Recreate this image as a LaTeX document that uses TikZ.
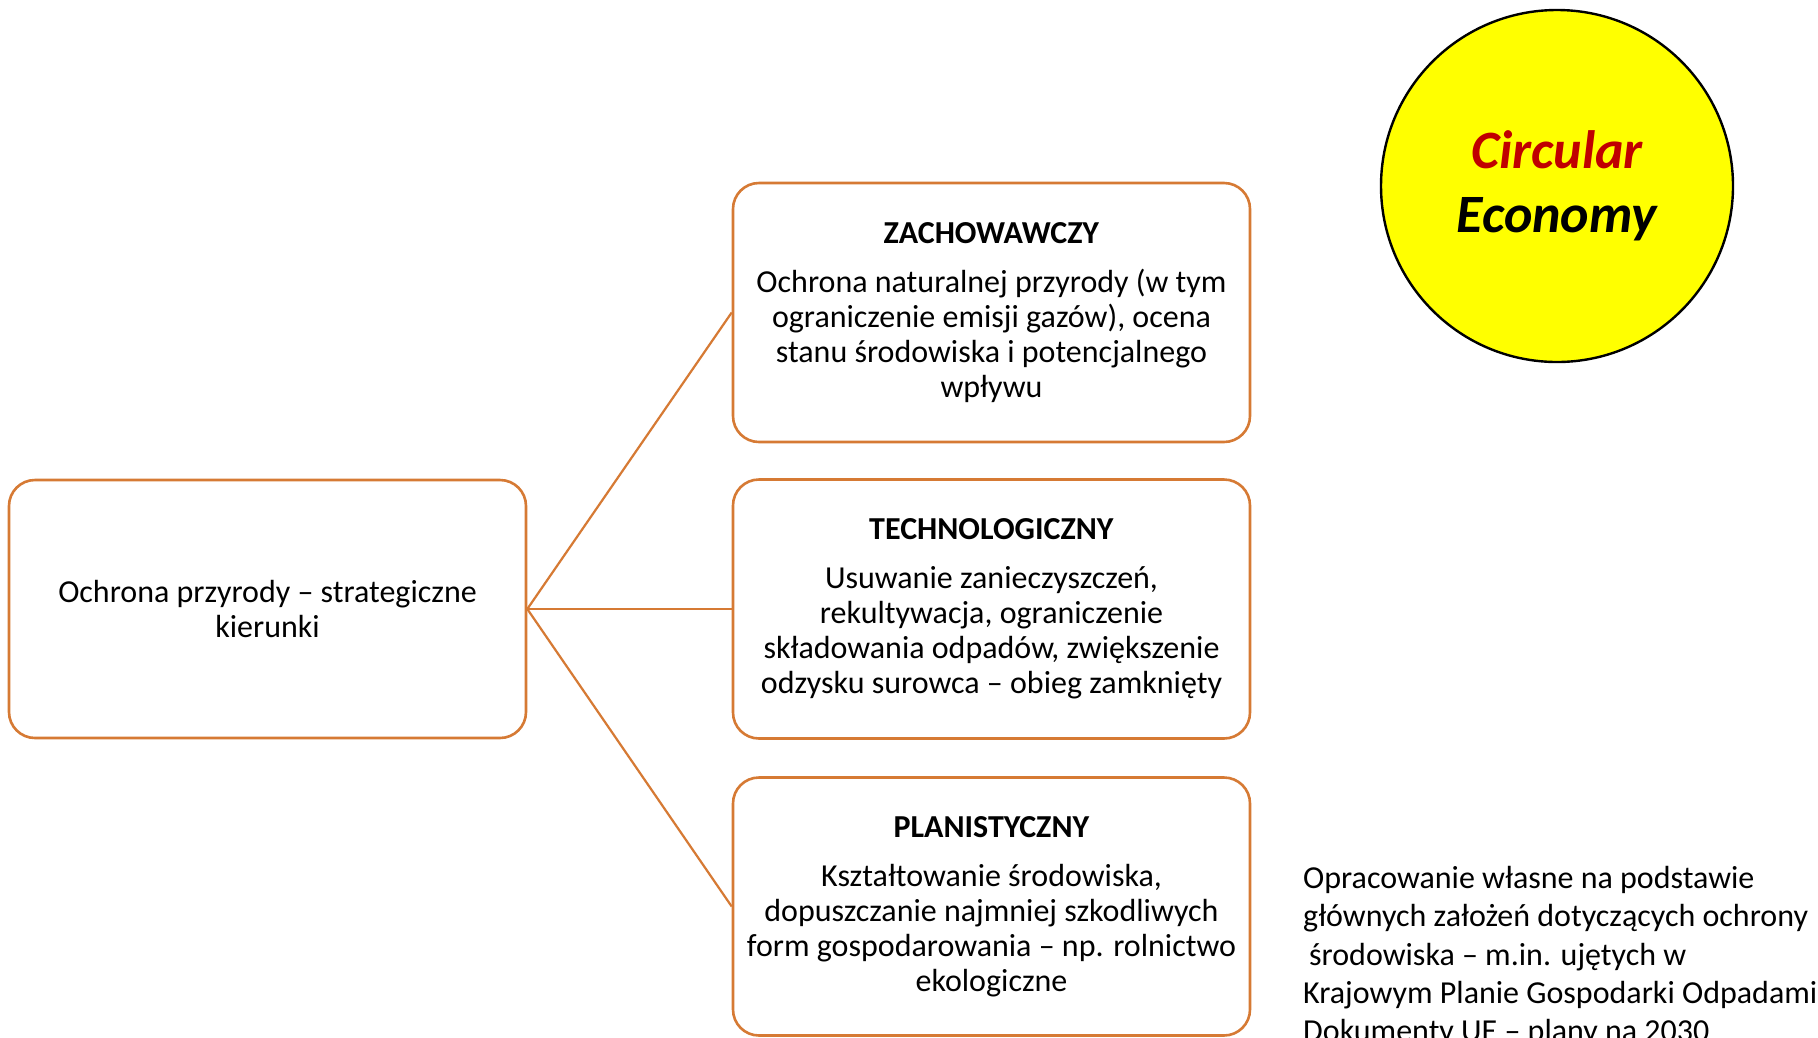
\documentclass[tikz,border=0pt]{standalone}
\usepackage{fontspec}
\setmainfont{Carlito}
\begin{document}
\begin{tikzpicture}[x=1pt,y=-1pt,
  accent/.style={draw={rgb,255:red,214;green,122;blue,52}},
  box/.style={accent, line width=2.6pt, rounded corners=26pt, fill=white,
    minimum width=517pt, align=center, inner sep=0pt,
    font=\fontsize{32}{35}\selectfont},
  link/.style={accent, line width=2.2pt}]
\useasboundingbox (0,0) rectangle (1818,1037);
\clip (0,0) rectangle (1818,1037);
\fill[white] (0,0) rectangle (1818,1037);

% root box
\node[box, minimum height=258pt] (root) at (267.5,609)
  {Ochrona przyrody – strategiczne\\kierunki};

% three strategy boxes
\node[box, minimum height=259pt] (zach) at (991.5,312.5)
  {\textbf{ZACHOWAWCZY}\\[14pt]
   Ochrona naturalnej przyrody (w tym\\
   ograniczenie emisji gazów), ocena\\
   stanu środowiska i potencjalnego\\
   wpływu};
\node[box, minimum height=259pt] (tech) at (991.5,609)
  {\textbf{TECHNOLOGICZNY}\\[14pt]
   Usuwanie zanieczyszczeń,\\
   rekultywacja, ograniczenie\\
   składowania odpadów, zwiększenie\\
   odzysku surowca – obieg zamknięty};
\node[box, minimum height=258pt] (plan) at (991.5,906.5)
  {\textbf{PLANISTYCZNY}\\[14pt]
   Kształtowanie środowiska,\\
   dopuszczanie najmniej szkodliwych\\
   form gospodarowania – np. rolnictwo\\
   ekologiczne};

% connectors
\draw[link] (root.east) -- (zach.west);
\draw[link] (root.east) -- (tech.west);
\draw[link] (root.east) -- (plan.west);

% circular economy badge
\node[circle, draw=black, line width=2.4pt, fill={rgb,255:red,255;green,255;blue,0},
  minimum size=352pt, inner sep=0pt, align=center,
  font=\fontsize{54}{64}\selectfont\bfseries\itshape] (ce) at (1557,186)
  {\textcolor[RGB]{192,0,0}{Circular}\\Economy};

% source note
\node[anchor=north west, align=left, inner sep=0pt,
  font=\fontsize{32}{38.3}\selectfont] (note) at (1303,866)
  {Opracowanie własne na podstawie\\
   głównych założeń dotyczących ochrony\\
   \hspace{6pt}środowiska – m.in. ujętych w\\
   Krajowym Planie Gospodarki Odpadami\\
   Dokumenty UE – plany na 2030};
\end{tikzpicture}
\end{document}
